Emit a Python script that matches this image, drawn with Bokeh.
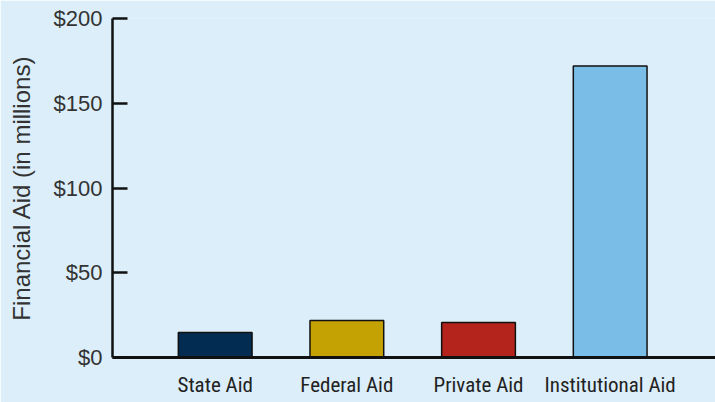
from bokeh.plotting import figure
from bokeh.models import Range1d, FixedTicker, NumeralTickFormatter
from bokeh.embed import file_html
from bokeh.resources import INLINE

categories = ["State Aid", "Federal Aid", "Private Aid", "Institutional Aid"]
values = [14.7, 21.8, 20.6, 172.0]
colors = ["#022c52", "#c4a204", "#b4241c", "#7abde6"]
y_ticks = [0, 50, 100, 150, 200]

BG = "#dbeef9"
idx = list(range(len(categories)))

p = figure(width=715, height=402, output_backend="svg", toolbar_location=None,
           x_range=Range1d(-0.78, 3.8), y_range=Range1d(0, 200),
           min_border_left=112, min_border_right=0, min_border_top=18, min_border_bottom=45)
p.background_fill_color = BG
p.border_fill_color = BG
p.outline_line_color = None
p.grid.grid_line_color = None

p.vbar(x=idx, top=values, width=0.56, bottom=0, fill_color=colors,
       line_color="#111111", line_width=1.5)

ya = p.yaxis[0]
ya.ticker = FixedTicker(ticks=y_ticks)
ya.formatter = NumeralTickFormatter(format="$0")
ya.axis_line_width = 2.5
ya.axis_line_color = "#111111"
ya.major_tick_in = 15
ya.major_tick_out = 0
ya.major_tick_line_width = 2.5
ya.major_tick_line_color = "#111111"
ya.minor_tick_line_color = None
ya.major_label_text_font = "Liberation Sans"
ya.major_label_text_font_size = "22px"
ya.major_label_text_color = "#333333"
ya.major_label_standoff = 10
ya.axis_label = "Financial Aid (in millions)"
ya.axis_label_text_font = "Liberation Sans"
ya.axis_label_text_font_style = "normal"
ya.axis_label_text_font_size = "24px"
ya.axis_label_text_color = "#333333"
ya.axis_label_standoff = 16

xa = p.xaxis[0]
xa.ticker = FixedTicker(ticks=idx)
xa.major_label_overrides = {i: c for i, c in zip(idx, categories)}
xa.axis_line_width = 3
xa.axis_line_color = "#111111"
xa.major_tick_line_color = None
xa.minor_tick_line_color = None
xa.major_label_text_font = "Roboto Condensed"
xa.major_label_text_font_size = "21px"
xa.major_label_text_color = "#222222"
xa.major_label_standoff = 9

html = file_html(p, INLINE)
html = html.replace("<body>", '<body style="background:%s;margin:0;overflow:hidden">' % BG, 1)
open("out.html", "w").write(html)
